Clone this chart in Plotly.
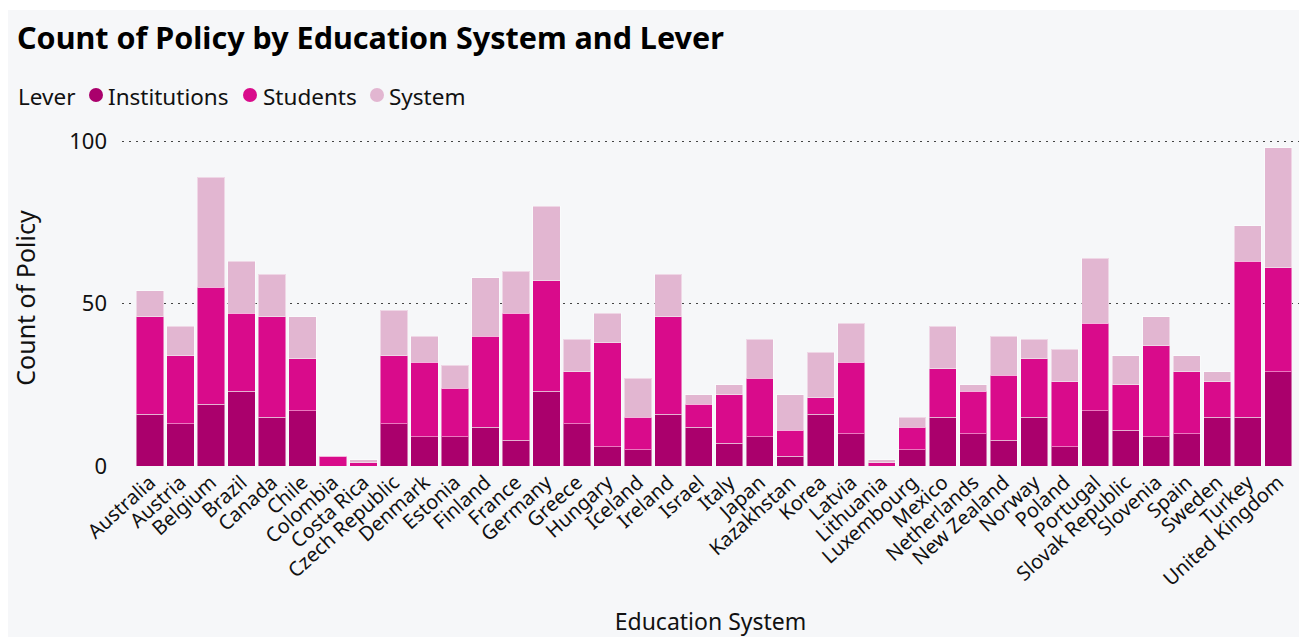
import plotly.graph_objects as go

countries = ["Australia", "Austria", "Belgium", "Brazil", "Canada", "Chile", "Colombia",
             "Costa Rica", "Czech Republic", "Denmark", "Estonia", "Finland", "France",
             "Germany", "Greece", "Hungary", "Iceland", "Ireland", "Israel", "Italy", "Japan",
             "Kazakhstan", "Korea", "Latvia", "Lithuania", "Luxembourg", "Mexico",
             "Netherlands", "New Zealand", "Norway", "Poland", "Portugal", "Slovak Republic",
             "Slovenia", "Spain", "Sweden", "Turkey", "United Kingdom"]
institutions = [16, 13, 19, 23, 15, 17, 0, 0, 13, 9, 9, 12, 8, 23, 13, 6, 5, 16, 12, 7, 9,
                3, 16, 10, 0, 5, 15, 10, 8, 15, 6, 17, 11, 9, 10, 15, 15, 29]
students = [30, 21, 36, 24, 31, 16, 3, 1, 21, 23, 15, 28, 39, 34, 16, 32, 10, 30, 7, 15, 18,
            8, 5, 22, 1, 7, 15, 13, 20, 18, 20, 27, 14, 28, 19, 11, 48, 32]
system = [8, 9, 34, 16, 13, 13, 0, 1, 14, 8, 7, 18, 13, 23, 10, 9, 12, 13, 3, 3, 12,
          11, 14, 12, 1, 3, 13, 2, 12, 6, 10, 20, 9, 9, 5, 3, 11, 37]
lever_names = ["Institutions", "Students", "System"]
lever_colors = ["#AA006C", "#D90B8B", "#E2B6D1"]
y_ticks = [0, 50, 100]

W_PX, H_PX = 1299, 637
L, R, T, B = 122, 0, 130, 171
PW = W_PX - L - R
PH = H_PX - T - B

def px_x(px):
    return (px - L) / PW

def px_y(py):
    return (H_PX - B - py) / PH

FONT = "Segoe UI, Noto Sans, Open Sans, sans-serif"

fig = go.Figure()
for name, vals, col in zip(lever_names, [institutions, students, system], lever_colors):
    fig.add_trace(go.Bar(
        x=countries, y=vals, name=name, marker_color=col,
        marker_line=dict(color="rgba(255,255,255,0.45)", width=1),
        showlegend=False,
    ))

# legend built from text + circles (Power BI style)
LEG_Y = 97
dot_centers = [96, 250, 377]
name_starts = [106, 261, 387]
annotations = [dict(text="Lever", xref="paper", yref="paper", x=px_x(16), y=px_y(LEG_Y),
                    xanchor="left", yanchor="middle", showarrow=False,
                    font=dict(size=22.5, family=FONT, color="#111"))]
shapes = [
    dict(type="rect", xref="paper", yref="paper", layer="below",
         x0=px_x(0), x1=px_x(W_PX), y0=px_y(0), y1=px_y(10),
         fillcolor="white", line_width=0),
    dict(type="rect", xref="paper", yref="paper", layer="below",
         x0=px_x(0), x1=px_x(8), y0=px_y(0), y1=px_y(H_PX),
         fillcolor="white", line_width=0),
]
for name, col, cx, sx in zip(lever_names, lever_colors, dot_centers, name_starts):
    shapes.append(dict(type="circle", xref="paper", yref="paper",
                       x0=px_x(cx - 7), x1=px_x(cx + 7),
                       y0=px_y(LEG_Y - 9), y1=px_y(LEG_Y + 5),
                       fillcolor=col, line_width=0))
    annotations.append(dict(text=name, xref="paper", yref="paper", x=px_x(sx),
                            y=px_y(LEG_Y), xanchor="left", yanchor="middle",
                            showarrow=False,
                            font=dict(size=22.5, family=FONT, color="#111")))

fig.update_layout(
    width=W_PX, height=H_PX,
    margin=dict(l=L, r=R, t=T, b=B, pad=0),
    barmode="stack", bargap=0.11,
    paper_bgcolor="#F6F7F9", plot_bgcolor="rgba(0,0,0,0)",
    font=dict(family=FONT, color="#111111"),
    title=dict(text="<b>Count of Policy by Education System and Lever</b>",
               x=17 / W_PX, xanchor="left", xref="container",
               y=1 - 38 / H_PX, yanchor="middle", yref="container",
               font=dict(size=30.5, family=FONT, color="#000000")),
    xaxis=dict(
        range=[-0.92, 37.68], tickangle=-42, tickfont=dict(size=20, color="#111"),
        showgrid=False, showline=False, ticks="",
        title=dict(text="Education System", font=dict(size=23), standoff=30),
    ),
    yaxis=dict(
        range=[0, 103.5], tickvals=y_ticks, tickfont=dict(size=22, color="#111"),
        showgrid=True, gridcolor="#444444", gridwidth=1, griddash="2px,5px",
        zeroline=False, showline=False, ticks="", ticklabelstandoff=14,
        title=dict(text="Count of Policy", font=dict(size=25), standoff=26),
    ),
    shapes=shapes,
    annotations=annotations,
)

fig.write_html("out.html")
